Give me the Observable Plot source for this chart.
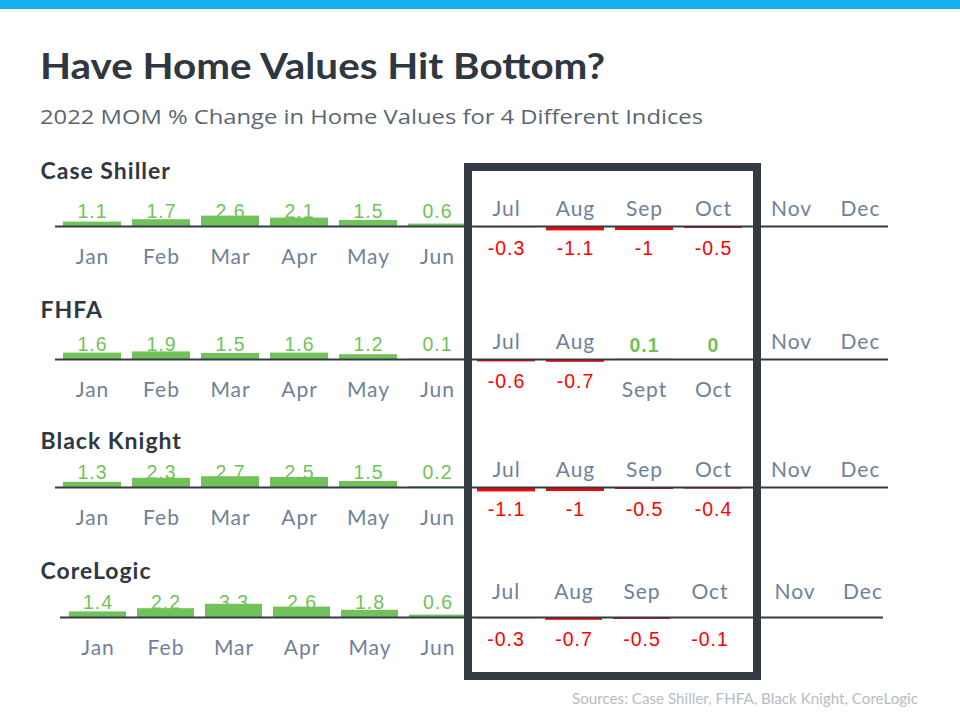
<!DOCTYPE html>
<html>
<head>
<meta charset="utf-8">
<script src="https://cdn.jsdelivr.net/npm/d3@7"></script>
<script src="https://cdn.jsdelivr.net/npm/@observablehq/plot@0.6"></script>
<style>
  html, body { margin: 0; padding: 0; background: #ffffff; }
  #page { position: relative; width: 960px; height: 720px; overflow: hidden; background: #fff; }
  #topbar { position: absolute; left: 0; top: 0; width: 960px; height: 9px; background: #15aeef; }
  .txt { position: absolute; line-height: 1; white-space: nowrap; transform-origin: 0 0; }
  #title { left: 40px; top: 46px; font-family: Lato, sans-serif; font-weight: 700; font-size: 37px; color: #2f3741; }
  #subtitle { left: 40px; top: 107px; font-family: "Open Sans", sans-serif; font-weight: 400; font-size: 20px; color: #5b6670; }
  #source { left: 572px; top: 692px; font-family: Lato, sans-serif; font-size: 14.5px; color: #b5bdc5; }
  .panel { position: absolute; left: 0; width: 960px; height: 130px; }
  .panel svg { display: block; overflow: visible; }
  #box { position: absolute; box-sizing: border-box; border: 8px solid #333a43; }
</style>
</head>
<body>
<div id="page">
  <div id="topbar"></div>
  <div id="title" class="txt">Have Home Values Hit Bottom?</div>
  <div id="subtitle" class="txt">2022 MOM % Change in Home Values for 4 Different Indices</div>
  <div id="source" class="txt">Sources: Case Shiller, FHFA, Black Knight, CoreLogic</div>
</div>
<script>
// ---- data ----
const months = ["Jan","Feb","Mar","Apr","May","Jun","Jul","Aug","Sep","Oct","Nov","Dec"];
const fhfaMonthLabels = ["Jan","Feb","Mar","Apr","May","Jun","Jul","Aug","Sept","Oct","Nov","Dec"];
const indexNames = ["Case Shiller", "FHFA", "Black Knight", "CoreLogic"];
const caseShiller = [1.1, 1.7, 2.6, 2.1, 1.5, 0.6, -0.3, -1.1, -1, -0.5, null, null];
const fhfa        = [1.6, 1.9, 1.5, 1.6, 1.2, 0.1, -0.6, -0.7, 0.1, 0, null, null];
const blackKnight = [1.3, 2.3, 2.7, 2.5, 1.5, 0.2, -1.1, -1, -0.5, -0.4, null, null];
const coreLogic   = [1.4, 2.2, 3.3, 2.6, 1.8, 0.6, -0.3, -0.7, -0.5, -0.1, null, null];
const highlighted = ["Jul", "Oct"]; // boxed range

// ---- layout / style ----
const GREEN = "#72c25b", RED = "#ff0000", SLATE = "#70819a", DARK = "#2f3741";
const VALUE_FONT = "Liberation Sans, Arial, sans-serif";
const panels = [
  {name: indexNames[0], values: caseShiller, labels: months,          top: 151, left: 55, right: 888, nameBase: 27, aboveGap: 11, tailShift: 9},
  {name: indexNames[1], values: fhfa,        labels: fhfaMonthLabels, top: 284, left: 55, right: 888, nameBase: 33, aboveGap: 11, tailShift: 9},
  {name: indexNames[2], values: blackKnight, labels: months,          top: 412, left: 55, right: 888, nameBase: 36, aboveGap: 11, tailShift: 9},
  {name: indexNames[3], values: coreLogic,   labels: months,          top: 542, left: 60, right: 883, nameBase: 36, aboveGap: 19, tailShift: 17}
];

const page = document.getElementById("page");
const plots = [];

for (const p of panels) {
  const rows = months.map((m, i) => ({month: m, label: p.labels[i], value: p.values[i], i}));
  const withVal = rows.filter(d => d.value != null);
  const nonNeg = withVal.filter(d => d.value >= 0);
  const nonNegPlain = nonNeg.filter(d => d.i < 6);
  const nonNegBold = nonNeg.filter(d => d.i >= 6);
  const neg = withVal.filter(d => d.value < 0);
  const noData = rows.filter(d => d.value == null);
  const negLabels = rows.filter(d => d.value != null && d.value < 0);

  const chart = Plot.plot({
    width: 960,
    height: 130,
    marginTop: 0,
    marginBottom: 0,
    marginLeft: p.left,
    marginRight: 960 - p.right,
    x: {type: "band", domain: months, paddingInner: 0.16, paddingOuter: 0.08, axis: null},
    y: {domain: [-13.75, 18.75], axis: null},
    style: {background: "transparent", overflow: "visible", letterSpacing: "1px"},
    marks: [
      Plot.barY(withVal, {x: "month", y: "value", fill: d => d.value < 0 ? RED : GREEN}),
      Plot.ruleY([0], {stroke: "#343b44", strokeWidth: 2}),
      // positive value labels above the line
      Plot.text(nonNegPlain, {
        x: "month", y: 0, text: d => String(d.value), dy: -8.5, lineAnchor: "bottom",
        fill: GREEN, fontSize: 19.5, fontFamily: VALUE_FONT
      }),
      Plot.text(nonNegBold, {
        x: "month", y: 0, text: d => String(d.value), dy: -8, lineAnchor: "bottom",
        fill: GREEN, fontSize: 19.5, fontWeight: "bold", fontFamily: VALUE_FONT
      }),
      // negative value labels below the line
      Plot.text(neg, {
        x: "month", y: 0, text: d => String(d.value), dy: 28, lineAnchor: "bottom",
        fill: RED, fontSize: 19.5, fontFamily: VALUE_FONT
      }),
      // month labels below the line (non-negative months)
      Plot.text(nonNeg, {
        x: "month", y: 0, text: "label", dy: 37, lineAnchor: "bottom",
        fill: SLATE, fontSize: 21, fontFamily: "Lato, sans-serif"
      }),
      // month labels above the line (negative months)
      Plot.text(negLabels, {
        x: "month", y: 0, text: "label", dy: -p.aboveGap, lineAnchor: "bottom",
        fill: SLATE, fontSize: 21, fontFamily: "Lato, sans-serif"
      }),
      // month labels above the line (months without data yet)
      Plot.text(noData, {
        x: "month", y: 0, text: "label", dy: -p.aboveGap, dx: p.tailShift, lineAnchor: "bottom",
        fill: SLATE, fontSize: 21, fontFamily: "Lato, sans-serif"
      }),
      // index name
      Plot.text([p.name], {
        frameAnchor: "top-left", text: d => d, dx: 40 - p.left, dy: p.nameBase,
        lineAnchor: "bottom", textAnchor: "start",
        fill: DARK, fontSize: 23, fontWeight: "bold", fontFamily: "Lato, sans-serif"
      })
    ]
  });

  const div = document.createElement("div");
  div.className = "panel";
  div.style.top = p.top + "px";
  div.appendChild(chart);
  page.appendChild(div);
  plots.push(chart);
}

// highlight box around Jul–Oct, positioned from the first panel's x scale
const xs = plots[0].scale("x");
const step = xs.apply(months[1]) - xs.apply(months[0]);
const bw = xs.bandwidth;
const gap = step - bw;
const innerLeft = xs.apply(highlighted[0]) - gap / 2;
const innerRight = xs.apply(highlighted[1]) + bw + gap / 2 + 5;
const BORDER = 8;
const box = document.createElement("div");
box.id = "box";
box.style.left = (innerLeft - BORDER) + "px";
box.style.width = (innerRight - innerLeft + 2 * BORDER) + "px";
box.style.top = (panels[0].top + 12) + "px";
box.style.height = (panels[3].top + 138 - (panels[0].top + 12)) + "px";
page.appendChild(box);

// horizontally fit header/footer texts to the reference widths
const fitWidths = {title: 565, subtitle: 663, source: 346};
for (const [id, w] of Object.entries(fitWidths)) {
  const el = document.getElementById(id);
  const actual = el.getBoundingClientRect().width;
  if (actual > 0) el.style.transform = `scaleX(${w / actual})`;
}
</script>
</body>
</html>
